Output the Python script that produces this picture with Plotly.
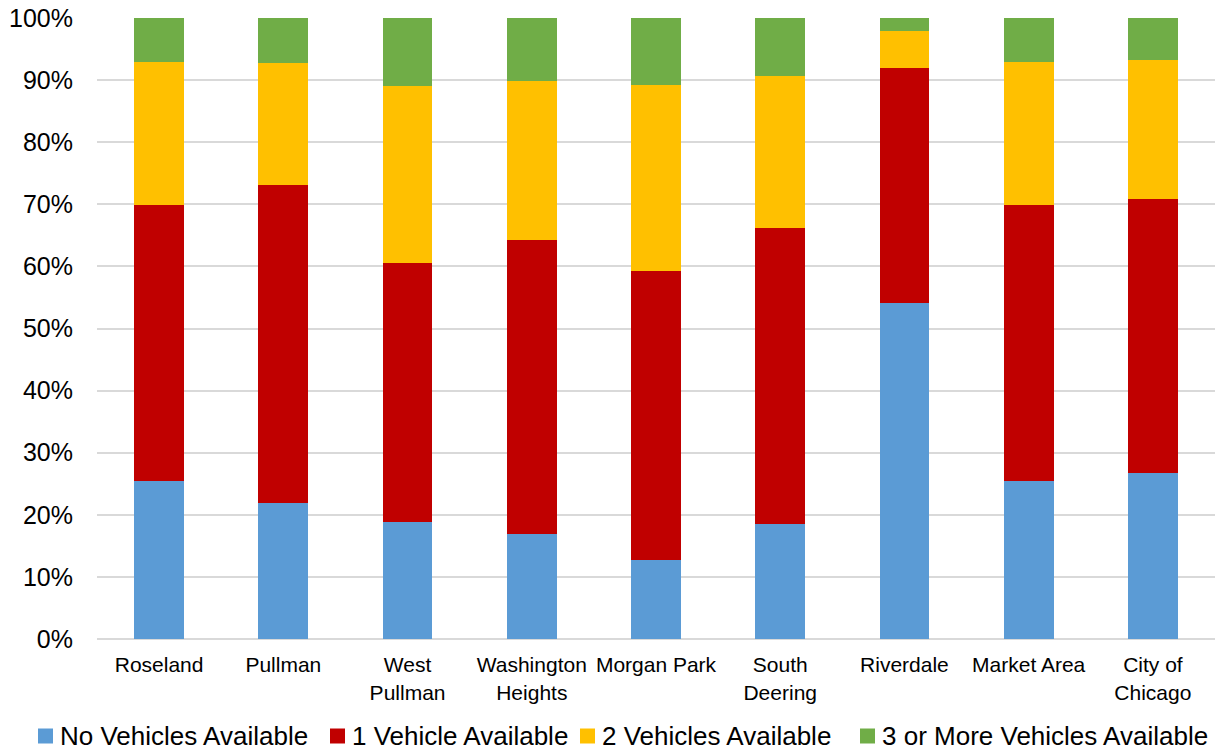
import plotly.graph_objects as go

areas = ["Roseland", "Pullman", "West<br>Pullman", "Washington<br>Heights", "Morgan Park",
         "South<br>Deering", "Riverdale", "Market Area", "City of<br>Chicago"]

no_vehicle = [25.4, 21.9, 18.8, 16.9, 12.7, 18.5, 54.1, 25.4, 26.7]
one_vehicle = [44.5, 51.2, 41.7, 47.4, 46.6, 47.7, 37.8, 44.5, 44.2]
two_vehicles = [23.0, 19.7, 28.5, 25.6, 29.9, 24.5, 6.0, 23.0, 22.3]
three_plus = [7.1, 7.2, 11.0, 10.1, 10.8, 9.3, 2.1, 7.1, 6.8]

series = [
    ("No Vehicles Available", no_vehicle, "#5b9bd5"),
    ("1 Vehicle Available", one_vehicle, "#c00000"),
    ("2 Vehicles Available", two_vehicles, "#ffc000"),
    ("3 or More Vehicles Available", three_plus, "#70ad47"),
]

# figure geometry (pixels)
W, H = 1225, 750
ML, MR, MT, MB = 97, 10, 18, 111
PW, PH = W - ML - MR, H - MT - MB

fig = go.Figure()
for name, vals, color in series:
    fig.add_trace(go.Bar(
        x=areas, y=[v / 100 for v in vals], name=name,
        marker=dict(color=color, line=dict(width=0)),
        showlegend=False,
    ))

# legend row along the bottom: colour square followed by series name
legend_left_px = [38, 330, 580, 860]
legend_mid_px = 736
ly = -(legend_mid_px - (MT + PH)) / PH
for (name, _, color), lx in zip(series, legend_left_px):
    px = (lx - ML) / PW
    fig.add_shape(
        type="rect", xref="paper", yref="paper",
        xsizemode="pixel", ysizemode="pixel",
        xanchor=px, yanchor=ly, x0=0, x1=15, y0=-7.5, y1=7.5,
        fillcolor=color, line=dict(width=0),
    )
    fig.add_annotation(
        xref="paper", yref="paper", x=(lx + 20 - ML) / PW, y=ly,
        xanchor="left", yanchor="middle", showarrow=False,
        text=name, font=dict(size=26, color="#000000"),
    )

fig.update_layout(
    barmode="stack",
    bargap=0.6,
    width=W, height=H,
    margin=dict(l=ML, r=MR, t=MT, b=MB, autoexpand=False),
    paper_bgcolor="white", plot_bgcolor="white",
    font=dict(family="Liberation Sans, Arial, sans-serif", color="#000000"),
    showlegend=False,
    xaxis=dict(
        tickfont=dict(size=21), showgrid=False, showline=False,
        ticks="outside", ticklen=7, tickcolor="rgba(0,0,0,0)", automargin=False,
    ),
    yaxis=dict(
        range=[0, 1], tickformat=".0%", dtick=0.1,
        tickfont=dict(size=25), showgrid=True, gridcolor="#d9d9d9", gridwidth=2,
        zeroline=True, zerolinecolor="#d9d9d9", zerolinewidth=2,
        ticks="outside", ticklen=18, tickcolor="rgba(0,0,0,0)", showline=False,
        automargin=False,
    ),
)

fig.write_html("out.html")
